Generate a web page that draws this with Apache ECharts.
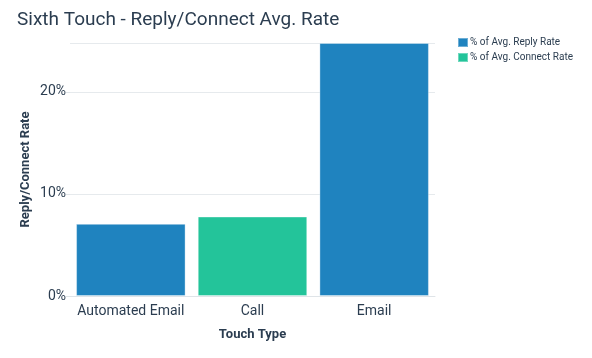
<!DOCTYPE html>
<html><head><meta charset="utf-8">
<script src="https://cdn.jsdelivr.net/npm/echarts@6/dist/echarts.min.js"></script>
<style>html,body{margin:0;padding:0;background:#fff}#c{width:592px;height:358px}</style>
</head><body><div id="c"></div>
<script>
const categories = ['Automated Email', 'Call', 'Email'];
const replyRate = [7.07, null, 24.8];
const connectRate = [null, 7.79, null];
const yTicks = [0, 10, 20];

const chart = echarts.init(document.getElementById('c'));
const txt = '#2b3d50';
chart.setOption({
  animation: false,
  textStyle: {fontFamily: 'Roboto'},
  title: {text: 'Sixth Touch - Reply/Connect Avg. Rate', left: 12, top: 6,
    textStyle: {fontFamily: 'Roboto', fontSize: 19, fontWeight: 'normal', color: txt}},
  legend: {orient: 'vertical', left: 452, top: 32, itemWidth: 10, itemHeight: 9, itemGap: 4,
    icon: 'rect', textStyle: {fontSize: 10, color: txt, padding: [0, 0, 0, -3]},
    data: ['% of Avg. Reply Rate', '% of Avg. Connect Rate']},
  grid: {left: 70, right: 157, top: 43, bottom: 62},
  xAxis: {type: 'category', data: categories,
    name: 'Touch Type', nameLocation: 'middle', nameGap: 32,
    nameTextStyle: {fontSize: 13, fontWeight: 'bold', color: txt},
    axisLine: {lineStyle: {color: '#dfe4e8'}},
    axisTick: {alignWithLabel: true, length: 5, lineStyle: {color: '#dfe4e8'}},
    axisLabel: {fontSize: 14, color: txt, margin: 8, interval: 0, hideOverlap: false}},
  yAxis: {type: 'value', min: 0, max: 24.8, interval: 10,
    name: 'Reply/Connect Rate', nameLocation: 'middle', nameGap: 44, nameMoveOverlap: false,
    nameTextStyle: {fontSize: 13, fontWeight: 'bold', color: txt, verticalAlign: 'middle'},
    axisLine: {show: false},
    axisTick: {show: true, length: 4, lineStyle: {color: '#dfe4e8'}},
    splitLine: {lineStyle: {color: '#e6eaed'}},
    axisLabel: {fontSize: 14, color: txt, margin: 4, showMaxLabel: false,
      formatter: v => yTicks.includes(v) ? v + '%' : ''}},
  series: [
    {name: '% of Avg. Reply Rate', type: 'bar', stack: 's', data: replyRate, barCategoryGap: '10%',
      itemStyle: {color: '#1f83bf', borderColor: 'rgba(255,255,255,0.35)', borderWidth: 1}},
    {name: '% of Avg. Connect Rate', type: 'bar', stack: 's', data: connectRate, barCategoryGap: '10%',
      itemStyle: {color: '#23c49a', borderColor: 'rgba(255,255,255,0.35)', borderWidth: 1}}
  ]
});
</script></body></html>
